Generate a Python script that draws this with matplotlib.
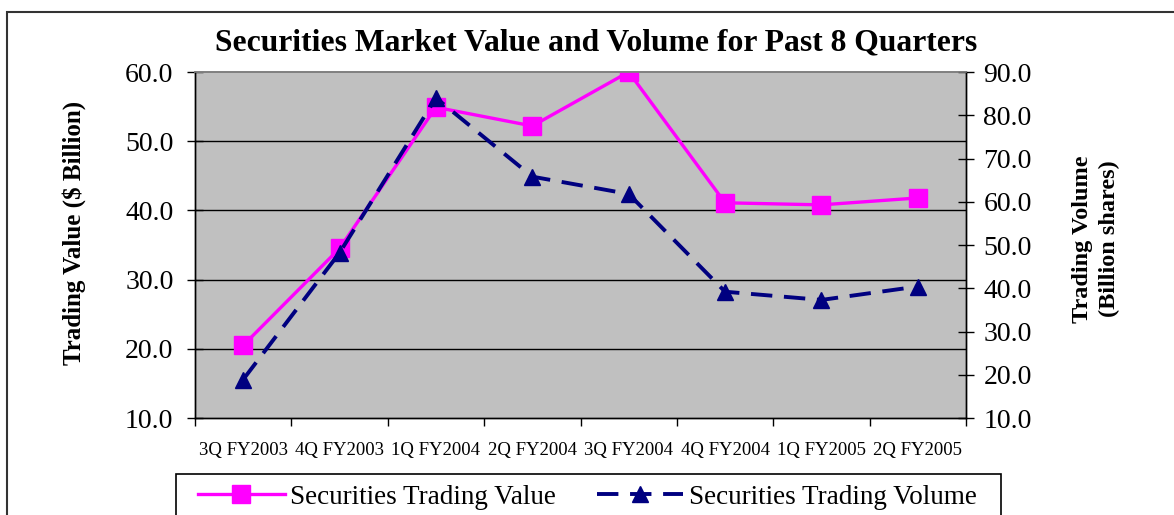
import numpy as np
import matplotlib
matplotlib.use('Agg')
import matplotlib.pyplot as plt
from matplotlib.patches import Rectangle

quarters = ['3Q FY2003', '4Q FY2003', '1Q FY2004', '2Q FY2004',
            '3Q FY2004', '4Q FY2004', '1Q FY2005', '2Q FY2005']
trading_value  = [20.5, 34.5, 54.9, 52.2, 60.0, 41.1, 40.8, 41.8]   # $ Billion
trading_volume = [18.9, 48.2, 84.0, 65.8, 61.8, 39.2, 37.3, 40.4]   # Billion shares

plt.rcParams['font.family'] = ['Liberation Serif', 'DejaVu Serif']

W, H = 1174, 515
fig = plt.figure(figsize=(W/100, H/100), dpi=100)
fig.patch.set_facecolor('white')

ax1 = fig.add_axes([195/W, 1-418/H, (966-195)/W, (418-72)/H])
ax1.set_facecolor('#C0C0C0')
ax2 = ax1.twinx()

x = np.arange(len(quarters))

l1, = ax1.plot(x, trading_value, color='#FF00FF', lw=2.4, marker='s', ms=13.5,
               mec='#FF00FF', mfc='#FF00FF', zorder=3,
               label='Securities Trading Value')
l2, = ax2.plot(x, trading_volume, color='#000080', lw=2.8, ls=(0, (5.5, 3)),
               marker='^', ms=11.5, mec='#000080', mfc='#000080', zorder=4,
               label='Securities Trading Volume')

ax1.set_xlim(-0.5, len(quarters)-0.5)
ax1.set_ylim(10, 60)
ax2.set_ylim(10, 90)

ax1.set_yticks(np.arange(10, 61, 10))
ax1.set_yticklabels(['%.1f' % v for v in np.arange(10, 61, 10)])
ax2.set_yticks(np.arange(10, 91, 10))
ax2.set_yticklabels(['%.1f' % v for v in np.arange(10, 91, 10)])

for v in [20, 30, 40, 50]:
    ax1.axhline(v, color='black', lw=1, zorder=1)

ax1.set_xticks(np.arange(-0.5, len(quarters), 1))
ax1.set_xticklabels([])
ax1.set_xticks(x, minor=True)
ax1.set_xticklabels(quarters, minor=True, fontsize=13.5)
ax1.tick_params(axis='x', which='major', direction='out', length=6, width=1)
ax1.tick_params(axis='x', which='minor', length=0, pad=17)
ax1.tick_params(axis='y', direction='inout', length=11, width=1, labelsize=20, pad=10)
ax2.tick_params(axis='y', direction='inout', length=11, width=1, labelsize=20, pad=7)

for a in (ax1, ax2):
    for s in ['left', 'right', 'bottom']:
        a.spines[s].set_color('black')
        a.spines[s].set_linewidth(1)
    a.spines['top'].set_color('#808080')
    a.spines['top'].set_linewidth(1.2)

fig.text(74/W, 1-233/H, 'Trading Value ($ Billion)', rotation=90,
         ha='center', va='center', fontsize=18, fontweight='bold')
fig.text(1096/W, 1-239/H, 'Trading Volume\n(Billion shares)', rotation=90,
         ha='center', va='center', fontsize=17.5, fontweight='bold',
         multialignment='center', linespacing=1.35)

fig.text(596/W, 1-43/H, 'Securities Market Value and Volume for Past 8 Quarters',
         ha='center', va='center', fontsize=22.8, fontweight='bold')

# legend without its own frame, the box is drawn below
fig.legend(handles=[l1, l2], loc='center left',
           bbox_to_anchor=(198/W, 1-497/H), ncol=2, fontsize=19.5,
           handlelength=3.2, handletextpad=0.2, columnspacing=1.5,
           borderaxespad=0, borderpad=0, frameon=False)
fig.add_artist(Rectangle((176/W, -0.1), (1001-176)/W, 1-474/H+0.1,
                         transform=fig.transFigure, fill=False,
                         edgecolor='black', lw=1.2))

# outer chart frame
fig.add_artist(Rectangle((7/W, -0.2), 1.2, 1-12/H+0.2, transform=fig.transFigure,
                         fill=False, edgecolor='#333333', lw=1.5))

plt.savefig('out.png', dpi=100)
